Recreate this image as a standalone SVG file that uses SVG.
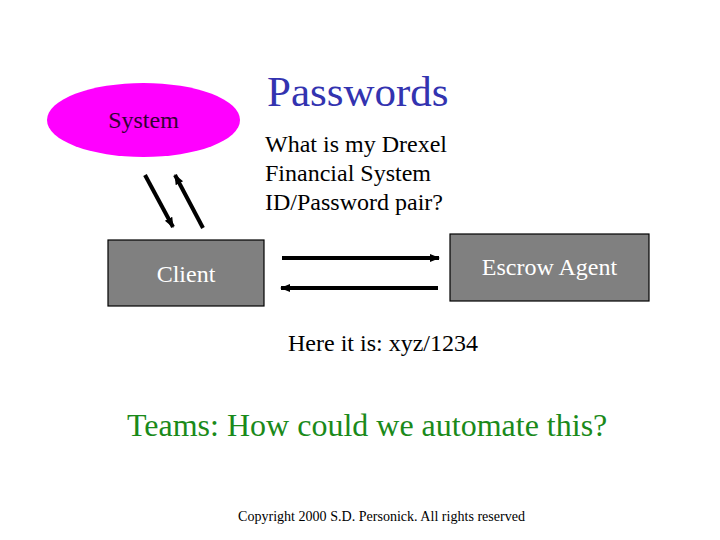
<svg xmlns="http://www.w3.org/2000/svg" width="720" height="540" viewBox="0 0 720 540">
<style>
text{font-family:"Liberation Serif","Times New Roman",serif;}
.t24{font-size:24px;fill:#000;}
.box{fill:#808080;stroke:#000;stroke-width:1.2;}
.ln{stroke:#000;stroke-width:4;fill:none;marker-end:url(#ah);}
</style>
<defs>
<marker id="ah" viewBox="0 0 10 10" refX="9" refY="5" markerWidth="2.6" markerHeight="2.6" orient="auto" markerUnits="strokeWidth">
<path d="M0,1 L10,5 L0,9 Z" fill="#000"/>
</marker>
</defs>
<rect width="720" height="540" fill="#fff"/>
<g id="title"><text x="267" y="106" style="font-size:43px;fill:#3333b0">Passwords</text></g>
<g id="system">
<ellipse cx="143.5" cy="120" rx="96.5" ry="37" fill="#ff00ff"/>
<text x="143.5" y="128" class="t24" text-anchor="middle" style="fill:#330033">System</text>
</g>
<g id="client">
<rect x="108" y="240" width="156" height="66" class="box"/>
<text x="186" y="282" class="t24" text-anchor="middle" style="fill:#fff">Client</text>
</g>
<g id="escrow">
<rect x="450" y="234" width="199" height="67" class="box"/>
<text x="549.5" y="275" class="t24" text-anchor="middle" style="fill:#fff">Escrow Agent</text>
</g>
<g id="question">
<text class="t24"><tspan x="265" y="152">What is my Drexel</tspan><tspan x="265" y="181">Financial System</tspan><tspan x="265" y="210">ID/Password pair?</tspan></text>
</g>
<g id="connectors">
<line x1="145" y1="175" x2="173" y2="227" class="ln"/>
<line x1="203" y1="228" x2="175" y2="175" class="ln"/>
<line x1="282" y1="258" x2="439" y2="258" class="ln"/>
<line x1="438" y1="288" x2="281" y2="288" class="ln"/>
</g>
<g id="answer"><text x="288" y="351" class="t24">Here it is: xyz/1234</text></g>
<g id="teams"><text x="127" y="436" style="font-size:32px;fill:#1a8a1a">Teams: How could we automate this?</text></g>
<g id="copyright"><text x="238" y="521" style="font-size:14px;fill:#000" textLength="287" lengthAdjust="spacingAndGlyphs">Copyright 2000 S.D. Personick. All rights reserved</text></g>
</svg>
